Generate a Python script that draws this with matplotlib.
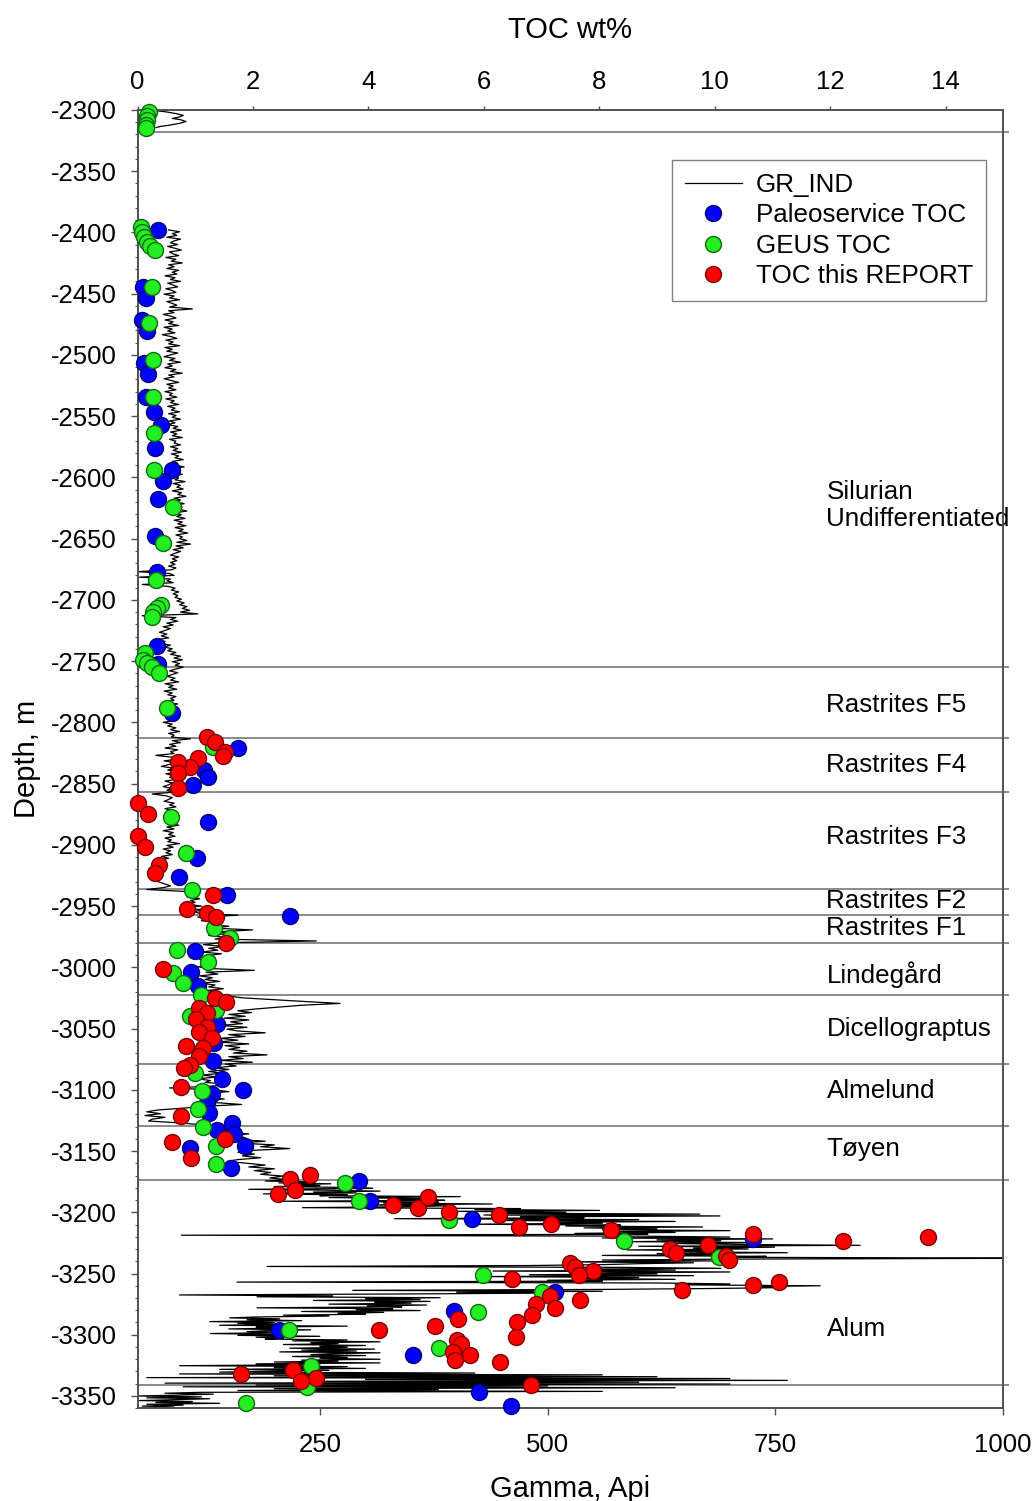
import numpy as np
import matplotlib
matplotlib.use("Agg")
import matplotlib.pyplot as plt
from matplotlib.lines import Line2D

plt.rcParams['font.family'] = ['Liberation Sans', 'DejaVu Sans']
plt.rcParams['axes.unicode_minus'] = False

# gamma ray log, top interval (depth m, gamma API)
gr_top_depth = [-2300.5, -2301.5, -2303, -2304.5, -2306, -2307, -2308, -2309.5, -2311, -2312.5,
                -2313.5, -2314.5]
gr_top_api = [68, 80, 92, 100, 95, 88, 97, 103, 96, 85, 75, 70]

# Silurian interval, sampled every 1.5 m from -2398 m
gr_sil_api = [
    84, 96, 88, 93, 82, 97, 90, 86, 94, 83, 91, 98, 85, 89, 95, 81, 92, 87, 99, 84,
    90, 82, 95, 88, 93, 80, 91, 86, 97, 83, 89, 94, 81, 88, 92, 79, 90, 85, 96, 82,
    88, 93, 85, 110, 84, 90, 78, 87, 92, 80, 89, 84, 95, 79, 88, 83, 91, 77, 86, 93,
    81, 89, 84, 96, 80, 88, 82, 94, 86, 79, 91, 85, 97, 83, 88, 80, 92, 86, 99, 84,
    90, 79, 87, 95, 82, 89, 84, 92, 80, 88, 85, 93, 81, 90, 86, 95, 83, 91, 87, 96,
    84, 92, 88, 97, 85, 91, 83, 94, 89, 98, 86, 93, 88, 99, 85, 92, 90, 97, 86, 94,
    89, 98, 87, 95, 91, 100, 88, 94, 90, 101, 86, 96, 92, 99, 88, 95, 91, 102, 89, 97,
    93, 100, 88, 98, 94, 103, 90, 97, 92, 101, 89, 99, 95, 104, 91, 98, 93, 102, 90, 99,
    94, 103, 91, 100, 95, 105, 92, 99, 96, 104, 93, 108, 92, 100, 89, 97, 91, 86, 95, 88,
    93, 86, 91, 84, 92, 87, 50, 85, 90, 52, 86, 82, 89, 55, 83, 91, 87, 95, 89, 94,
    91, 98, 93, 101, 96, 104, 99, 107, 97, 116, 55, 92, 86, 94, 82, 89, 78, 86, 80, 74,
    82, 76, 84, 72, 80, 75, 86, 79, 88, 83, 92, 86, 97, 90, 99, 88, 96, 91, 100,
]

# Rastrites to Toyen interval, sampled every 1.5 m from -2756.5 m
gr_ord_api = [
    92, 85, 94, 88, 82, 91, 86, 95, 80, 89, 84, 93, 79, 88, 83, 92, 86, 90, 81, 94,
    85, 91, 82, 95, 87, 80, 90, 84, 93, 78, 88, 83, 92, 86, 96, 84, 90, 87, 108, 88,
    97, 85, 92, 80, 94, 86, 90, 70, 88, 95, 79, 92, 84, 76, 90, 83, 96, 81, 89, 85,
    93, 80, 88, 84, 78, 87, 82, 90, 66, 81, 88, 84, 79, 90, 85, 92, 80, 87, 83, 90,
    84, 94, 81, 88, 86, 95, 82, 90, 78, 89, 84, 91, 80, 87, 83, 96, 82, 89, 78, 86,
    81, 88, 76, 84, 72, 80, 66, 75, 70, 62, 74, 67, 70, 64, 76, 69, 74, 80, 86, 78,
    60, 100, 106, 112, 104, 118, 108, 113, 104, 120, 97, 122, 112, 118, 160, 116, 130, 120, 140, 128,
    150, 132, 176, 138, 150, 128, 145, 135, 246, 140, 122, 145, 128, 138, 120, 142, 126, 135, 118, 130,
    122, 136, 116, 128, 178, 125, 138, 118, 132, 124, 140, 120, 135, 128, 144, 126, 138, 132, 150, 166,
    200, 235, 272, 230, 205, 180, 160, 175, 150, 168, 145, 172, 152, 165, 140, 170, 148, 160, 190, 150,
    168, 140, 160, 138, 172, 146, 162, 150, 170, 155, 192, 150, 166, 140, 176, 146, 158, 135, 150, 128,
    142, 120, 138, 116, 130, 124, 150, 132, 85, 132, 150, 125, 140, 118, 145, 122, 136, 164, 122, 100,
    72, 60, 75, 58, 80, 66, 62, 95, 120, 138, 126, 150, 140, 172, 150, 168, 158, 190, 160, 200,
    185, 217, 175, 160, 178, 165, 185, 160, 148, 170, 190, 172, 200, 178, 196, 185, 210, 195, 215,
]

# Alum Shale interval, sampled every 0.75 m from -3174.5 m
gr_alum_api = [
    190, 240, 205, 262, 215, 250, 200, 280, 308, 172,
    260, 316, 243, 290, 188, 280, 250,
    404, 260, 360, 330, 387, 206, 380, 320, 439, 300, 390, 340,
    231, 470, 420, 557, 400, 520, 445, 667, 430, 689, 470, 540, 332, 600, 455, 640, 500, 560, 410, 580, 520,
    670, 540, 620, 560, 700, 580, 640, 530, 610, 98,
    600, 700, 560, 747, 620, 690, 590, 730, 640, 710, 843, 600, 749, 660, 720, 587, 697, 640, 763, 620,
    700, 560, 740, 680, 1080,
    700, 560, 680, 520, 660, 600, 560, 480, 192,
    580, 690, 520, 640, 440, 700, 560, 620, 480, 660, 426, 600, 530, 640, 500, 560, 159,
    620, 700, 640, 799, 720, 760, 680, 560, 286, 560, 400, 500, 330, 96,
    264, 181, 382, 300, 360, 243, 371, 310, 350, 260, 367, 302, 340, 181, 330, 290, 360, 230, 320, 270, 300,
    210, 260, 180, 151, 206, 170, 230, 129, 200, 160, 217, 140, 280, 180, 210, 150, 240, 190, 170, 220,
    130, 200, 160, 250, 180, 210, 190,
    280, 220, 316, 240, 270, 210, 300, 250, 280, 217, 310, 230, 290, 206, 316, 260, 240, 300, 220, 280,
    250, 316, 230, 270, 200,
    316, 180, 250, 96, 280, 200, 300, 140, 260, 200,
    140, 420, 96, 560, 200, 620, 60, 700, 300, 763, 240, 600, 80, 700, 180, 500, 100, 640, 200, 380,
    160, 560, 120,
    80, 133, 96, 50, 120, 60, 129, 90, 52, 110, 70, 140, 60, 100, 55, 90, 60,
]

# TOC measurements (wt%, depth m)
paleo_toc = [0.36, 0.10, 0.14, 0.07, 0.17, 0.11, 0.18, 0.14, 0.28, 0.40, 0.30, 0.59, 0.44, 0.36,
             0.30, 0.34, 0.33, 0.36, 0.59, 1.74, 1.15, 1.22, 0.96, 1.22, 1.03, 0.72, 1.54, 2.64,
             1.00, 0.92, 1.05, 1.38, 1.32, 1.30, 1.47, 1.83, 1.28, 1.21, 1.24, 1.63, 1.37, 1.67,
             1.86, 0.91, 1.62, 3.84, 4.03, 5.79, 10.66, 7.23, 5.48, 2.45, 4.78, 5.92, 6.47]
paleo_depth = [-2398, -2444.3, -2453.8, -2471.5, -2480.5, -2506.9, -2515.9, -2534.1, -2546.4,
               -2557.2, -2576.3, -2594, -2602.7, -2617.7, -2647.7, -2677, -2737.7, -2752, -2792.7,
               -2821.3, -2839, -2845, -2851.2, -2881.2, -2911.1, -2926.1, -2941.1, -2958.2,
               -2986.5, -3004.2, -3015.4, -3046.7, -3062.2, -3076.4, -3091.6, -3100.3, -3103.6,
               -3111.2, -3118.9, -3127, -3133, -3136.3, -3146, -3147.9, -3163.5, -3174.4,
               -3190.7, -3205.9, -3222.2, -3265, -3280.6, -3295.8, -3316.8, -3346.7, -3358.4]

geus_toc = [0.19, 0.17, 0.16, 0.15, 0.15, 0.05, 0.07, 0.11, 0.17, 0.21, 0.30, 0.24, 0.20, 0.27,
            0.27, 0.28, 0.28, 0.61, 0.44, 0.32, 0.40, 0.33, 0.27, 0.24, 0.13, 0.10, 0.16, 0.24,
            0.37, 0.51, 1.30, 0.57, 0.84, 0.95, 1.33, 1.60, 0.68, 1.22, 0.62, 0.78, 1.09, 1.36,
            0.91, 0.99, 1.11, 1.04, 1.13, 1.36, 1.36, 3.59, 3.84, 5.40, 8.42, 10.08, 5.99, 7.00,
            5.89, 2.62, 5.23, 3.00, 2.93, 1.87]
geus_depth = [-2301.5, -2305, -2308.5, -2312, -2315, -2395.3, -2399.4, -2403.5, -2407.6, -2410.8,
              -2414.3, -2444.3, -2474.2, -2504.2, -2534.1, -2563.5, -2594, -2624, -2653.9, -2683.8,
              -2704.2, -2707, -2709.7, -2714.3, -2743.7, -2749.2, -2751.9, -2754.6, -2759.5,
              -2788.6, -2820, -2877.1, -2907, -2937, -2968.3, -2976.4, -2986, -2996, -3005,
              -3013.2, -3022.7, -3035, -3039.9, -3086.7, -3100.9, -3115.8, -3130.8, -3146,
              -3160.8, -3176, -3191, -3206.5, -3223.6, -3236.4, -3251.4, -3265, -3281.4, -3295.8,
              -3310.8, -3325.7, -3342.6, -3355.7]

report_toc = [1.20, 1.34, 1.51, 1.48, 1.05, 0.91, 0.70, 0.70, 0.70, 0.00, 0.18, 0.00, 0.13, 0.37,
              0.30, 1.30, 0.86, 1.21, 1.36, 1.53, 0.44, 1.34, 1.53, 1.07, 1.21, 1.01, 1.20, 1.07,
              1.28, 0.84, 1.14, 1.07, 0.91, 0.80, 0.75, 0.75, 1.51, 0.59, 0.92,
              2.64, 2.99, 2.44, 2.73, 4.43, 4.85, 5.04, 5.40, 6.27, 6.60, 7.17, 8.21, 10.67, 13.70,
              12.23, 9.89, 9.23, 9.33, 10.20, 10.25, 7.49, 7.58, 7.89, 7.64, 6.48, 11.11, 10.66,
              9.43, 7.15, 7.67, 6.90, 7.23, 6.83, 5.56, 6.58, 5.16, 4.19, 6.56, 5.54, 5.61, 5.47,
              5.76, 5.50, 6.28, 2.70, 1.79, 3.09, 2.83, 6.81]
report_depth = [-2812.3, -2815.9, -2824, -2827.6, -2829.4, -2836.3, -2832.2, -2841.7, -2853.9,
                -2866.2, -2874.9, -2892.9, -2901.6, -2916.6, -2922.9, -2941.1, -2952.8, -2955.3,
                -2959.3, -2980.5, -3001.8, -3025.4, -3028.2, -3033.6, -3037.2, -3042.6, -3048.6,
                -3052.7, -3058.1, -3064.4, -3066.3, -3072.6, -3079.9, -3082.6, -3097.6, -3121.6,
                -3139.8, -3142.5, -3155.3,
                -3172.5, -3169.7, -3184.7, -3182, -3193.7, -3196.9, -3187.4, -3199.7, -3202.4,
                -3211.9, -3209.2, -3214.6, -3217.4, -3220.6, -3223.6, -3226.9, -3229.6, -3233.2,
                -3235.9, -3238.6, -3241.3, -3244.6, -3247.9, -3251.4, -3254.1, -3256.9, -3259.6,
                -3263.1, -3268.5, -3271.8, -3274.5, -3278, -3284, -3286.8, -3290, -3292.8, -3295.8,
                -3301.8, -3304.5, -3307.2, -3314, -3316.8, -3320.3, -3322.5, -3329, -3331.7, -3335,
                -3337.7, -3341.2]

# formation tops and names
tops = [-2318, -2755, -2813, -2857.2, -2936.4, -2957.4, -2980.5, -3023, -3079.3, -3129.5,
        -3173.8, -3341.2]
formations = ["Silurian\nUndifferentiated", "Rastrites F5", "Rastrites F4", "Rastrites F3",
              "Rastrites F2", "Rastrites F1", "Lindegård", "Dicellograptus", "Almelund", "Tøyen",
              "Alum"]
formation_label_depth = [-2623, -2786, -2835, -2894, -2946, -2968, -3006, -3050.4, -3101,
                         -3148.5, -3295.5]

# assemble the log; NaN breaks the line across the unlogged gap
gr_sil_depth = -2398 - 1.5 * np.arange(len(gr_sil_api))
gr_ord_depth = -2756.5 - 1.5 * np.arange(len(gr_ord_api))
gr_alum_depth = -3174.5 - 0.75 * np.arange(len(gr_alum_api))
gr_depth = np.concatenate([gr_top_depth, [np.nan], gr_sil_depth, gr_ord_depth, gr_alum_depth])
gr_api = np.concatenate([gr_top_api, [np.nan], gr_sil_api, gr_ord_api, gr_alum_api])

fig = plt.figure(figsize=(10.35, 15.01), dpi=100)
ax = fig.add_axes([0.1330, 0.0618, 0.8363, 0.8650])

for d in tops:
    ax.plot([50, 1005], [d, d], color='#8a8a8a', lw=1.4, clip_on=False, zorder=1)

ax.plot(gr_api, gr_depth, color='black', lw=0.9, zorder=2)

for name, d in zip(formations, formation_label_depth):
    ax.text(806, d, name, fontsize=18.7, ha='left', va='center', linespacing=1.2, zorder=3)

ax.set_xlim(50, 1000)
ax.set_ylim(-3360, -2300)
ax.set_xticks([250, 500, 750, 1000])
ax.set_yticks(np.arange(-3350, -2299, 50))
ax.set_yticks(np.arange(-3360, -2299, 10), minor=True)
ax.tick_params(axis='x', which='major', direction='out', length=5, width=1, pad=13,
               labelsize=18.5, color='#505050')
ax.tick_params(axis='y', which='major', direction='out', length=5, width=1, pad=10,
               labelsize=18.5, color='#505050')
ax.tick_params(axis='y', which='minor', direction='out', length=2.5, width=0.8, color='#505050')
ax.set_xlabel("Gamma, Api", fontsize=21, labelpad=13)
ax.set_ylabel("Depth, m", fontsize=21, labelpad=7)
for s in ax.spines.values():
    s.set_color('#505050')
    s.set_linewidth(1.2)

ax2 = ax.twiny()
ax2.set_xlim(0, 15)
ax2.set_xticks(np.arange(0, 15, 2))
ax2.tick_params(axis='x', direction='out', length=3, width=1, pad=8.5, labelsize=18.5,
                color='#505050')
ax2.set_xlabel("TOC wt%", fontsize=21, labelpad=23)
for s in ax2.spines.values():
    s.set_color('#505050')
    s.set_linewidth(1.2)

mk = dict(marker='o', linestyle='none', markersize=11.5, markeredgewidth=1.0, clip_on=False)
ax2.plot(paleo_toc, paleo_depth, markerfacecolor='#0000ff', markeredgecolor='#00007a',
         zorder=4, **mk)
ax2.plot(geus_toc, geus_depth, markerfacecolor='#22ee22', markeredgecolor='#0f6a0f',
         zorder=5, **mk)
ax2.plot(report_toc, report_depth, markerfacecolor='#ff0000', markeredgecolor='#7a0000',
         zorder=6, **mk)

handles = [Line2D([], [], color='black', lw=0.9),
           Line2D([], [], marker='o', linestyle='none', markersize=11.5, markerfacecolor='#0000ff',
                  markeredgecolor='#00007a'),
           Line2D([], [], marker='o', linestyle='none', markersize=11.5, markerfacecolor='#22ee22',
                  markeredgecolor='#0f6a0f'),
           Line2D([], [], marker='o', linestyle='none', markersize=11.5, markerfacecolor='#ff0000',
                  markeredgecolor='#7a0000')]
leg = ax2.legend(handles, ["GR_IND", "Paleoservice TOC", "GEUS TOC", "TOC this REPORT"],
                 loc='upper right', bbox_to_anchor=(0.9804, 0.9612), borderaxespad=0,
                 fontsize=18.7, frameon=True, fancybox=False, framealpha=1, edgecolor='#808080',
                 handlelength=2.2, handletextpad=0.55, labelspacing=0.24, borderpad=0.5)
leg.get_frame().set_linewidth(1.0)
leg.set_zorder(10)

fig.savefig("out.png", dpi=100)
